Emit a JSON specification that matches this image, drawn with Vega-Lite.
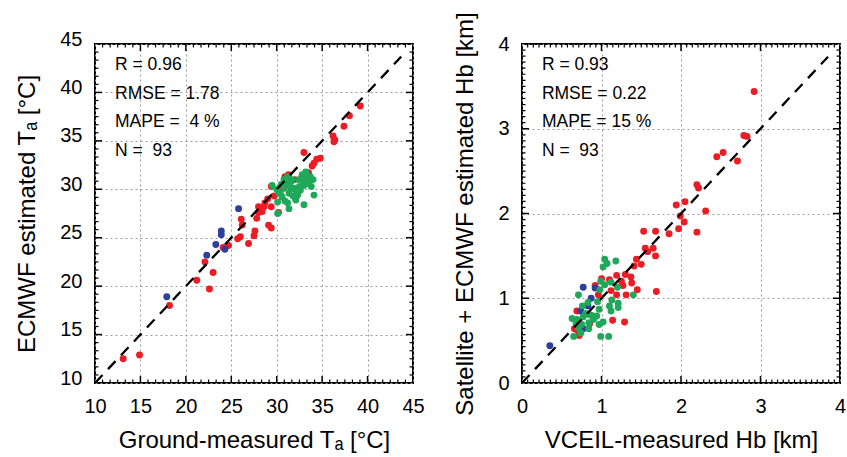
{
  "$schema": "https://vega.github.io/schema/vega-lite/v6.json",
  "padding": {"left": 14, "top": 10, "right": 5, "bottom": 0},
  "spacing": 26,
  "config": {
    "font": "Liberation Sans",
    "view": {"stroke": "black", "strokeWidth": 2},
    "axis": {
      "domain": false, "labelFont": "Liberation Sans", "labelFontSize": 20, "labelColor": "black",
      "titleFont": "Liberation Sans", "titleFontSize": 24, "titleFontWeight": "normal", "titleColor": "black",
      "ticks": false, "tickSize": 0, "gridColor": "#9a9a9a", "gridDash": [2, 3], "gridWidth": 1,
      "labelFlush": false, "labelOverlap": false
    }
  },
  "datasets": {
    "ta": [
      {"measured": 13.1, "estimated": 12.5, "group": "r"}, {"measured": 14.9, "estimated": 12.9, "group": "r"},
      {"measured": 18.2, "estimated": 18.0, "group": "r"}, {"measured": 21.2, "estimated": 20.6, "group": "r"},
      {"measured": 22.6, "estimated": 19.7, "group": "r"}, {"measured": 23.0, "estimated": 21.4, "group": "r"},
      {"measured": 22.1, "estimated": 22.5, "group": "r"}, {"measured": 24.7, "estimated": 24.2, "group": "r"},
      {"measured": 25.7, "estimated": 24.9, "group": "r"}, {"measured": 26.0, "estimated": 25.1, "group": "r"},
      {"measured": 26.9, "estimated": 24.4, "group": "r"}, {"measured": 27.5, "estimated": 25.2, "group": "r"},
      {"measured": 27.6, "estimated": 25.7, "group": "r"}, {"measured": 26.2, "estimated": 26.3, "group": "r"},
      {"measured": 26.1, "estimated": 26.9, "group": "r"}, {"measured": 27.8, "estimated": 27.0, "group": "r"},
      {"measured": 28.0, "estimated": 27.6, "group": "r"}, {"measured": 28.4, "estimated": 27.7, "group": "r"},
      {"measured": 28.6, "estimated": 28.2, "group": "r"}, {"measured": 28.0, "estimated": 28.2, "group": "r"},
      {"measured": 29.1, "estimated": 26.3, "group": "r"}, {"measured": 29.4, "estimated": 26.0, "group": "r"},
      {"measured": 29.4, "estimated": 28.2, "group": "r"}, {"measured": 29.7, "estimated": 29.3, "group": "r"},
      {"measured": 29.4, "estimated": 30.3, "group": "r"}, {"measured": 30.2, "estimated": 27.6, "group": "r"},
      {"measured": 30.9, "estimated": 31.3, "group": "r"}, {"measured": 31.3, "estimated": 31.5, "group": "r"},
      {"measured": 33.0, "estimated": 33.8, "group": "r"}, {"measured": 33.9, "estimated": 32.4, "group": "r"},
      {"measured": 34.1, "estimated": 32.7, "group": "r"}, {"measured": 34.4, "estimated": 33.1, "group": "r"},
      {"measured": 34.8, "estimated": 33.2, "group": "r"}, {"measured": 33.5, "estimated": 31.7, "group": "r"},
      {"measured": 36.2, "estimated": 35.5, "group": "r"}, {"measured": 36.4, "estimated": 35.1, "group": "r"},
      {"measured": 36.3, "estimated": 34.9, "group": "r"}, {"measured": 37.4, "estimated": 36.5, "group": "r"},
      {"measured": 38.0, "estimated": 37.6, "group": "r"}, {"measured": 39.2, "estimated": 38.6, "group": "r"},
      {"measured": 32.8, "estimated": 31.3, "group": "r"}, {"measured": 32.0, "estimated": 31.0, "group": "r"},
      {"measured": 30.4, "estimated": 30.0, "group": "r"}, {"measured": 29.0, "estimated": 29.0, "group": "r"},
      {"measured": 28.7, "estimated": 28.6, "group": "r"}, {"measured": 31.0, "estimated": 30.4, "group": "r"},
      {"measured": 24.1, "estimated": 24.0, "group": "r"},
      {"measured": 17.9, "estimated": 18.9, "group": "b"}, {"measured": 22.3, "estimated": 23.2, "group": "b"},
      {"measured": 23.3, "estimated": 24.3, "group": "b"}, {"measured": 23.9, "estimated": 25.7, "group": "b"},
      {"measured": 23.9, "estimated": 25.3, "group": "b"}, {"measured": 24.3, "estimated": 23.8, "group": "b"},
      {"measured": 25.8, "estimated": 28.0, "group": "b"},
      {"measured": 29.5, "estimated": 30.4, "group": "g"}, {"measured": 30.25, "estimated": 29.6, "group": "g"},
      {"measured": 30.1, "estimated": 28.7, "group": "g"}, {"measured": 30.1, "estimated": 27.5, "group": "g"},
      {"measured": 30.8, "estimated": 30.1, "group": "g"}, {"measured": 31.35, "estimated": 29.6, "group": "g"},
      {"measured": 31.2, "estimated": 28.6, "group": "g"}, {"measured": 31.35, "estimated": 28.0, "group": "g"},
      {"measured": 31.9, "estimated": 30.1, "group": "g"}, {"measured": 32.3, "estimated": 29.4, "group": "g"},
      {"measured": 32.45, "estimated": 31.0, "group": "g"}, {"measured": 32.8, "estimated": 31.5, "group": "g"},
      {"measured": 33.2, "estimated": 31.8, "group": "g"}, {"measured": 33.0, "estimated": 30.4, "group": "g"},
      {"measured": 33.0, "estimated": 28.4, "group": "g"}, {"measured": 33.7, "estimated": 31.3, "group": "g"},
      {"measured": 34.0, "estimated": 31.0, "group": "g"}, {"measured": 34.1, "estimated": 29.4, "group": "g"},
      {"measured": 31.7, "estimated": 31.0, "group": "g"}, {"measured": 32.1, "estimated": 28.9, "group": "g"},
      {"measured": 30.6, "estimated": 29.2, "group": "g"}, {"measured": 30.8, "estimated": 31.0, "group": "g"},
      {"measured": 30.0, "estimated": 30.0, "group": "g"}, {"measured": 30.5, "estimated": 30.5, "group": "g"},
      {"measured": 31.0, "estimated": 30.6, "group": "g"}, {"measured": 31.5, "estimated": 30.2, "group": "g"},
      {"measured": 32.0, "estimated": 30.0, "group": "g"}, {"measured": 32.5, "estimated": 30.3, "group": "g"},
      {"measured": 32.2, "estimated": 29.8, "group": "g"}, {"measured": 33.5, "estimated": 30.6, "group": "g"},
      {"measured": 33.3, "estimated": 31.2, "group": "g"}, {"measured": 31.8, "estimated": 29.3, "group": "g"},
      {"measured": 30.9, "estimated": 28.8, "group": "g"}, {"measured": 32.6, "estimated": 29.9, "group": "g"},
      {"measured": 33.8, "estimated": 30.3, "group": "g"}, {"measured": 31.2, "estimated": 31.3, "group": "g"},
      {"measured": 30.4, "estimated": 29.6, "group": "g"}, {"measured": 32.9, "estimated": 30.9, "group": "g"},
      {"measured": 31.6, "estimated": 30.8, "group": "g"}
    ],
    "hb": [
      {"measured": 2.92, "estimated": 3.44, "group": "r"}, {"measured": 2.79, "estimated": 2.92, "group": "r"},
      {"measured": 2.83, "estimated": 2.91, "group": "r"}, {"measured": 2.71, "estimated": 2.62, "group": "r"},
      {"measured": 2.45, "estimated": 2.67, "group": "r"}, {"measured": 2.53, "estimated": 2.72, "group": "r"},
      {"measured": 2.20, "estimated": 2.34, "group": "r"}, {"measured": 2.22, "estimated": 2.30, "group": "r"},
      {"measured": 1.94, "estimated": 2.10, "group": "r"}, {"measured": 2.05, "estimated": 2.14, "group": "r"},
      {"measured": 2.31, "estimated": 2.03, "group": "r"}, {"measured": 1.99, "estimated": 1.97, "group": "r"},
      {"measured": 2.04, "estimated": 1.90, "group": "r"}, {"measured": 1.97, "estimated": 1.82, "group": "r"},
      {"measured": 2.20, "estimated": 1.78, "group": "r"}, {"measured": 1.85, "estimated": 1.76, "group": "r"},
      {"measured": 1.53, "estimated": 1.79, "group": "r"}, {"measured": 1.68, "estimated": 1.79, "group": "r"},
      {"measured": 1.65, "estimated": 1.59, "group": "r"}, {"measured": 1.55, "estimated": 1.59, "group": "r"},
      {"measured": 1.58, "estimated": 1.55, "group": "r"}, {"measured": 1.68, "estimated": 1.50, "group": "r"},
      {"measured": 1.44, "estimated": 1.46, "group": "r"}, {"measured": 1.41, "estimated": 1.38, "group": "r"},
      {"measured": 1.30, "estimated": 1.28, "group": "r"}, {"measured": 1.19, "estimated": 1.27, "group": "r"},
      {"measured": 1.37, "estimated": 1.25, "group": "r"}, {"measured": 1.27, "estimated": 1.15, "group": "r"},
      {"measured": 1.38, "estimated": 1.18, "group": "r"}, {"measured": 1.45, "estimated": 1.10, "group": "r"},
      {"measured": 1.31, "estimated": 1.04, "group": "r"}, {"measured": 1.69, "estimated": 1.08, "group": "r"},
      {"measured": 1.00, "estimated": 1.23, "group": "r"}, {"measured": 1.12, "estimated": 1.09, "group": "r"},
      {"measured": 1.19, "estimated": 1.04, "group": "r"}, {"measured": 0.92, "estimated": 1.15, "group": "r"},
      {"measured": 0.96, "estimated": 1.04, "group": "r"}, {"measured": 1.14, "estimated": 0.74, "group": "r"},
      {"measured": 1.29, "estimated": 0.72, "group": "r"}, {"measured": 0.69, "estimated": 0.85, "group": "r"},
      {"measured": 0.66, "estimated": 0.64, "group": "r"}, {"measured": 0.72, "estimated": 0.56, "group": "r"},
      {"measured": 0.84, "estimated": 0.81, "group": "r"}, {"measured": 1.10, "estimated": 1.22, "group": "r"},
      {"measured": 1.25, "estimated": 1.20, "group": "r"}, {"measured": 0.85, "estimated": 0.70, "group": "r"},
      {"measured": 0.70, "estimated": 0.62, "group": "r"}, {"measured": 1.50, "estimated": 1.40, "group": "r"},
      {"measured": 0.35, "estimated": 0.44, "group": "b"}, {"measured": 0.77, "estimated": 1.13, "group": "b"},
      {"measured": 0.92, "estimated": 1.12, "group": "b"}, {"measured": 0.87, "estimated": 1.00, "group": "b"},
      {"measured": 0.83, "estimated": 0.91, "group": "b"}, {"measured": 0.74, "estimated": 0.85, "group": "b"},
      {"measured": 0.77, "estimated": 0.64, "group": "b"},
      {"measured": 1.04, "estimated": 1.46, "group": "g"}, {"measured": 1.07, "estimated": 1.41, "group": "g"},
      {"measured": 1.18, "estimated": 1.44, "group": "g"}, {"measured": 1.12, "estimated": 1.19, "group": "g"},
      {"measured": 0.98, "estimated": 1.10, "group": "g"}, {"measured": 1.20, "estimated": 1.13, "group": "g"},
      {"measured": 1.40, "estimated": 1.04, "group": "g"}, {"measured": 0.71, "estimated": 1.04, "group": "g"},
      {"measured": 0.76, "estimated": 0.91, "group": "g"}, {"measured": 0.83, "estimated": 0.95, "group": "g"},
      {"measured": 0.95, "estimated": 0.96, "group": "g"}, {"measured": 0.97, "estimated": 0.87, "group": "g"},
      {"measured": 1.10, "estimated": 0.91, "group": "g"}, {"measured": 1.21, "estimated": 0.94, "group": "g"},
      {"measured": 1.21, "estimated": 0.89, "group": "g"}, {"measured": 1.12, "estimated": 0.85, "group": "g"},
      {"measured": 0.63, "estimated": 0.76, "group": "g"}, {"measured": 0.69, "estimated": 0.75, "group": "g"},
      {"measured": 0.77, "estimated": 0.78, "group": "g"}, {"measured": 0.87, "estimated": 0.80, "group": "g"},
      {"measured": 0.84, "estimated": 0.71, "group": "g"}, {"measured": 0.75, "estimated": 0.69, "group": "g"},
      {"measured": 0.71, "estimated": 0.65, "group": "g"}, {"measured": 0.84, "estimated": 0.64, "group": "g"},
      {"measured": 0.97, "estimated": 0.69, "group": "g"}, {"measured": 1.02, "estimated": 0.72, "group": "g"},
      {"measured": 0.65, "estimated": 0.55, "group": "g"}, {"measured": 0.74, "estimated": 0.59, "group": "g"},
      {"measured": 0.99, "estimated": 0.55, "group": "g"}, {"measured": 1.09, "estimated": 0.55, "group": "g"},
      {"measured": 0.94, "estimated": 0.79, "group": "g"}, {"measured": 1.13, "estimated": 0.98, "group": "g"},
      {"measured": 1.04, "estimated": 1.16, "group": "g"}, {"measured": 1.02, "estimated": 1.37, "group": "g"},
      {"measured": 0.99, "estimated": 1.20, "group": "g"}, {"measured": 0.80, "estimated": 0.82, "group": "g"},
      {"measured": 0.90, "estimated": 0.75, "group": "g"}, {"measured": 0.68, "estimated": 0.70, "group": "g"}
    ],
    "diagT": [{"v": 10}, {"v": 43.7}],
    "diagH": [{"v": 0}, {"v": 3.85}],
    "majT": [{"v": 15}, {"v": 20}, {"v": 25}, {"v": 30}, {"v": 35}, {"v": 40}],
    "minT": [{"v": 10.8333}, {"v": 11.6667}, {"v": 12.5}, {"v": 13.3333}, {"v": 14.1667}, {"v": 15.8333}, {"v": 16.6667}, {"v": 17.5}, {"v": 18.3333}, {"v": 19.1667}, {"v": 20.8333}, {"v": 21.6667}, {"v": 22.5}, {"v": 23.3333}, {"v": 24.1667}, {"v": 25.8333}, {"v": 26.6667}, {"v": 27.5}, {"v": 28.3333}, {"v": 29.1667}, {"v": 30.8333}, {"v": 31.6667}, {"v": 32.5}, {"v": 33.3333}, {"v": 34.1667}, {"v": 35.8333}, {"v": 36.6667}, {"v": 37.5}, {"v": 38.3333}, {"v": 39.1667}, {"v": 40.8333}, {"v": 41.6667}, {"v": 42.5}, {"v": 43.3333}, {"v": 44.1667}],
    "majH": [{"v": 1}, {"v": 2}, {"v": 3}],
    "minH": [{"v": 0.0714}, {"v": 0.1429}, {"v": 0.2143}, {"v": 0.2857}, {"v": 0.3571}, {"v": 0.4286}, {"v": 0.5}, {"v": 0.5714}, {"v": 0.6429}, {"v": 0.7143}, {"v": 0.7857}, {"v": 0.8571}, {"v": 0.9286}, {"v": 1.0714}, {"v": 1.1429}, {"v": 1.2143}, {"v": 1.2857}, {"v": 1.3571}, {"v": 1.4286}, {"v": 1.5}, {"v": 1.5714}, {"v": 1.6429}, {"v": 1.7143}, {"v": 1.7857}, {"v": 1.8571}, {"v": 1.9286}, {"v": 2.0714}, {"v": 2.1429}, {"v": 2.2143}, {"v": 2.2857}, {"v": 2.3571}, {"v": 2.4286}, {"v": 2.5}, {"v": 2.5714}, {"v": 2.6429}, {"v": 2.7143}, {"v": 2.7857}, {"v": 2.8571}, {"v": 2.9286}, {"v": 3.0714}, {"v": 3.1429}, {"v": 3.2143}, {"v": 3.2857}, {"v": 3.3571}, {"v": 3.4286}, {"v": 3.5}, {"v": 3.5714}, {"v": 3.6429}, {"v": 3.7143}, {"v": 3.7857}, {"v": 3.8571}, {"v": 3.9286}],
    "statsT": [{"text": "R = 0.96\nRMSE = 1.78\nMAPE = \u00a04 %\nN = \u00a093"}],
    "statsH": [{"text": "R = 0.93\nRMSE = 0.22\nMAPE = 15 %\nN = \u00a093"}]
  },
  "hconcat": [
    {
      "width": 318, "height": 339,
      "layer": [
        {
          "data": {"name": "ta"},
          "mark": {"type": "circle", "size": 48, "opacity": 1},
          "encoding": {
            "x": {"field": "measured", "type": "quantitative",
              "scale": {"domain": [10, 45], "nice": false, "zero": false},
              "axis": {"orient": "bottom", "values": [10, 15, 20, 25, 30, 35, 40, 45], "format": "d", "grid": true,
                "labelPadding": 13, "title": "Ground-measured Tₐ [°C]", "titlePadding": 12.5}},
            "y": {"field": "estimated", "type": "quantitative",
              "scale": {"domain": [10, 45], "nice": false, "zero": false},
              "axis": {"orient": "left", "values": [10, 15, 20, 25, 30, 35, 40, 45], "format": "d", "grid": true,
                "labelPadding": 13, "labelOffset": -5, "title": "ECMWF estimated Tₐ [°C]", "titlePadding": 20}},
            "color": {"field": "group", "type": "nominal",
              "scale": {"domain": ["r", "g", "b"], "range": ["#ec1c24", "#1fa85a", "#2b3f9e"]}, "legend": null}
          }
        },
        {
          "data": {"name": "diagT"},
          "mark": {"type": "line", "color": "black", "strokeWidth": 2.3, "strokeDash": [11, 8]},
          "encoding": {"x": {"field": "v", "type": "quantitative"}, "y": {"field": "v", "type": "quantitative"}}
        },
        {
          "data": {"name": "majT"},
          "mark": {"type": "tick", "orient": "vertical", "color": "black", "size": 7, "thickness": 1.5, "opacity": 1},
          "encoding": {"x": {"field": "v", "type": "quantitative"}, "y": {"datum": 10.36, "type": "quantitative"}}
        },
        {
          "data": {"name": "majT"},
          "mark": {"type": "tick", "orient": "vertical", "color": "black", "size": 7, "thickness": 1.5, "opacity": 1},
          "encoding": {"x": {"field": "v", "type": "quantitative"}, "y": {"datum": 44.64, "type": "quantitative"}}
        },
        {
          "data": {"name": "majT"},
          "mark": {"type": "tick", "orient": "horizontal", "color": "black", "size": 7, "thickness": 1.5, "opacity": 1},
          "encoding": {"y": {"field": "v", "type": "quantitative"}, "x": {"datum": 10.385, "type": "quantitative"}}
        },
        {
          "data": {"name": "majT"},
          "mark": {"type": "tick", "orient": "horizontal", "color": "black", "size": 7, "thickness": 1.5, "opacity": 1},
          "encoding": {"y": {"field": "v", "type": "quantitative"}, "x": {"datum": 44.615, "type": "quantitative"}}
        },
        {
          "data": {"name": "minT"},
          "mark": {"type": "tick", "orient": "vertical", "color": "black", "size": 3.5, "thickness": 1.2, "opacity": 1},
          "encoding": {"x": {"field": "v", "type": "quantitative"}, "y": {"datum": 10.18, "type": "quantitative"}}
        },
        {
          "data": {"name": "minT"},
          "mark": {"type": "tick", "orient": "vertical", "color": "black", "size": 3.5, "thickness": 1.2, "opacity": 1},
          "encoding": {"x": {"field": "v", "type": "quantitative"}, "y": {"datum": 44.82, "type": "quantitative"}}
        },
        {
          "data": {"name": "minT"},
          "mark": {"type": "tick", "orient": "horizontal", "color": "black", "size": 3.5, "thickness": 1.2, "opacity": 1},
          "encoding": {"y": {"field": "v", "type": "quantitative"}, "x": {"datum": 10.19, "type": "quantitative"}}
        },
        {
          "data": {"name": "minT"},
          "mark": {"type": "tick", "orient": "horizontal", "color": "black", "size": 3.5, "thickness": 1.2, "opacity": 1},
          "encoding": {"y": {"field": "v", "type": "quantitative"}, "x": {"datum": 44.81, "type": "quantitative"}}
        },
        {
          "data": {"name": "statsT"},
          "mark": {"type": "text", "align": "left", "baseline": "alphabetic", "fontSize": 17.5, "lineHeight": 28.5, "lineBreak": "\n", "color": "black", "font": "Liberation Sans"},
          "encoding": {
            "x": {"datum": 12.2, "type": "quantitative"},
            "y": {"datum": 42.3, "type": "quantitative"},
            "text": {"field": "text"}
          }
        }
      ]
    },
    {
      "width": 318, "height": 339,
      "layer": [
        {
          "data": {"name": "hb"},
          "mark": {"type": "circle", "size": 48, "opacity": 1},
          "encoding": {
            "x": {"field": "measured", "type": "quantitative",
              "scale": {"domain": [0, 4], "nice": false, "zero": false},
              "axis": {"orient": "bottom", "values": [0, 1, 2, 3, 4], "format": "d", "grid": true,
                "labelPadding": 13, "title": "VCEIL-measured Hb [km]", "titlePadding": 12.5}},
            "y": {"field": "estimated", "type": "quantitative",
              "scale": {"domain": [0, 4], "nice": false, "zero": false},
              "axis": {"orient": "left", "values": [0, 1, 2, 3, 4], "format": "d", "grid": true,
                "labelPadding": 13, "title": "Satellite + ECMWF estimated Hb [km]", "titlePadding": 20}},
            "color": {"field": "group", "type": "nominal",
              "scale": {"domain": ["r", "g", "b"], "range": ["#ec1c24", "#1fa85a", "#2b3f9e"]}, "legend": null}
          }
        },
        {
          "data": {"name": "diagH"},
          "mark": {"type": "line", "color": "black", "strokeWidth": 2.3, "strokeDash": [11, 8]},
          "encoding": {"x": {"field": "v", "type": "quantitative"}, "y": {"field": "v", "type": "quantitative"}}
        },
        {
          "data": {"name": "majH"},
          "mark": {"type": "tick", "orient": "vertical", "color": "black", "size": 7, "thickness": 1.5, "opacity": 1},
          "encoding": {"x": {"field": "v", "type": "quantitative"}, "y": {"datum": 0.0413, "type": "quantitative"}}
        },
        {
          "data": {"name": "majH"},
          "mark": {"type": "tick", "orient": "vertical", "color": "black", "size": 7, "thickness": 1.5, "opacity": 1},
          "encoding": {"x": {"field": "v", "type": "quantitative"}, "y": {"datum": 3.9587, "type": "quantitative"}}
        },
        {
          "data": {"name": "majH"},
          "mark": {"type": "tick", "orient": "horizontal", "color": "black", "size": 7, "thickness": 1.5, "opacity": 1},
          "encoding": {"y": {"field": "v", "type": "quantitative"}, "x": {"datum": 0.044, "type": "quantitative"}}
        },
        {
          "data": {"name": "majH"},
          "mark": {"type": "tick", "orient": "horizontal", "color": "black", "size": 7, "thickness": 1.5, "opacity": 1},
          "encoding": {"y": {"field": "v", "type": "quantitative"}, "x": {"datum": 3.956, "type": "quantitative"}}
        },
        {
          "data": {"name": "minH"},
          "mark": {"type": "tick", "orient": "vertical", "color": "black", "size": 3.5, "thickness": 1.2, "opacity": 1},
          "encoding": {"x": {"field": "v", "type": "quantitative"}, "y": {"datum": 0.0207, "type": "quantitative"}}
        },
        {
          "data": {"name": "minH"},
          "mark": {"type": "tick", "orient": "vertical", "color": "black", "size": 3.5, "thickness": 1.2, "opacity": 1},
          "encoding": {"x": {"field": "v", "type": "quantitative"}, "y": {"datum": 3.9793, "type": "quantitative"}}
        },
        {
          "data": {"name": "minH"},
          "mark": {"type": "tick", "orient": "horizontal", "color": "black", "size": 3.5, "thickness": 1.2, "opacity": 1},
          "encoding": {"y": {"field": "v", "type": "quantitative"}, "x": {"datum": 0.022, "type": "quantitative"}}
        },
        {
          "data": {"name": "minH"},
          "mark": {"type": "tick", "orient": "horizontal", "color": "black", "size": 3.5, "thickness": 1.2, "opacity": 1},
          "encoding": {"y": {"field": "v", "type": "quantitative"}, "x": {"datum": 3.978, "type": "quantitative"}}
        },
        {
          "data": {"name": "statsH"},
          "mark": {"type": "text", "align": "left", "baseline": "alphabetic", "fontSize": 17.5, "lineHeight": 28.5, "lineBreak": "\n", "color": "black", "font": "Liberation Sans"},
          "encoding": {
            "x": {"datum": 0.25, "type": "quantitative"},
            "y": {"datum": 3.69, "type": "quantitative"},
            "text": {"field": "text"}
          }
        }
      ]
    }
  ]
}
